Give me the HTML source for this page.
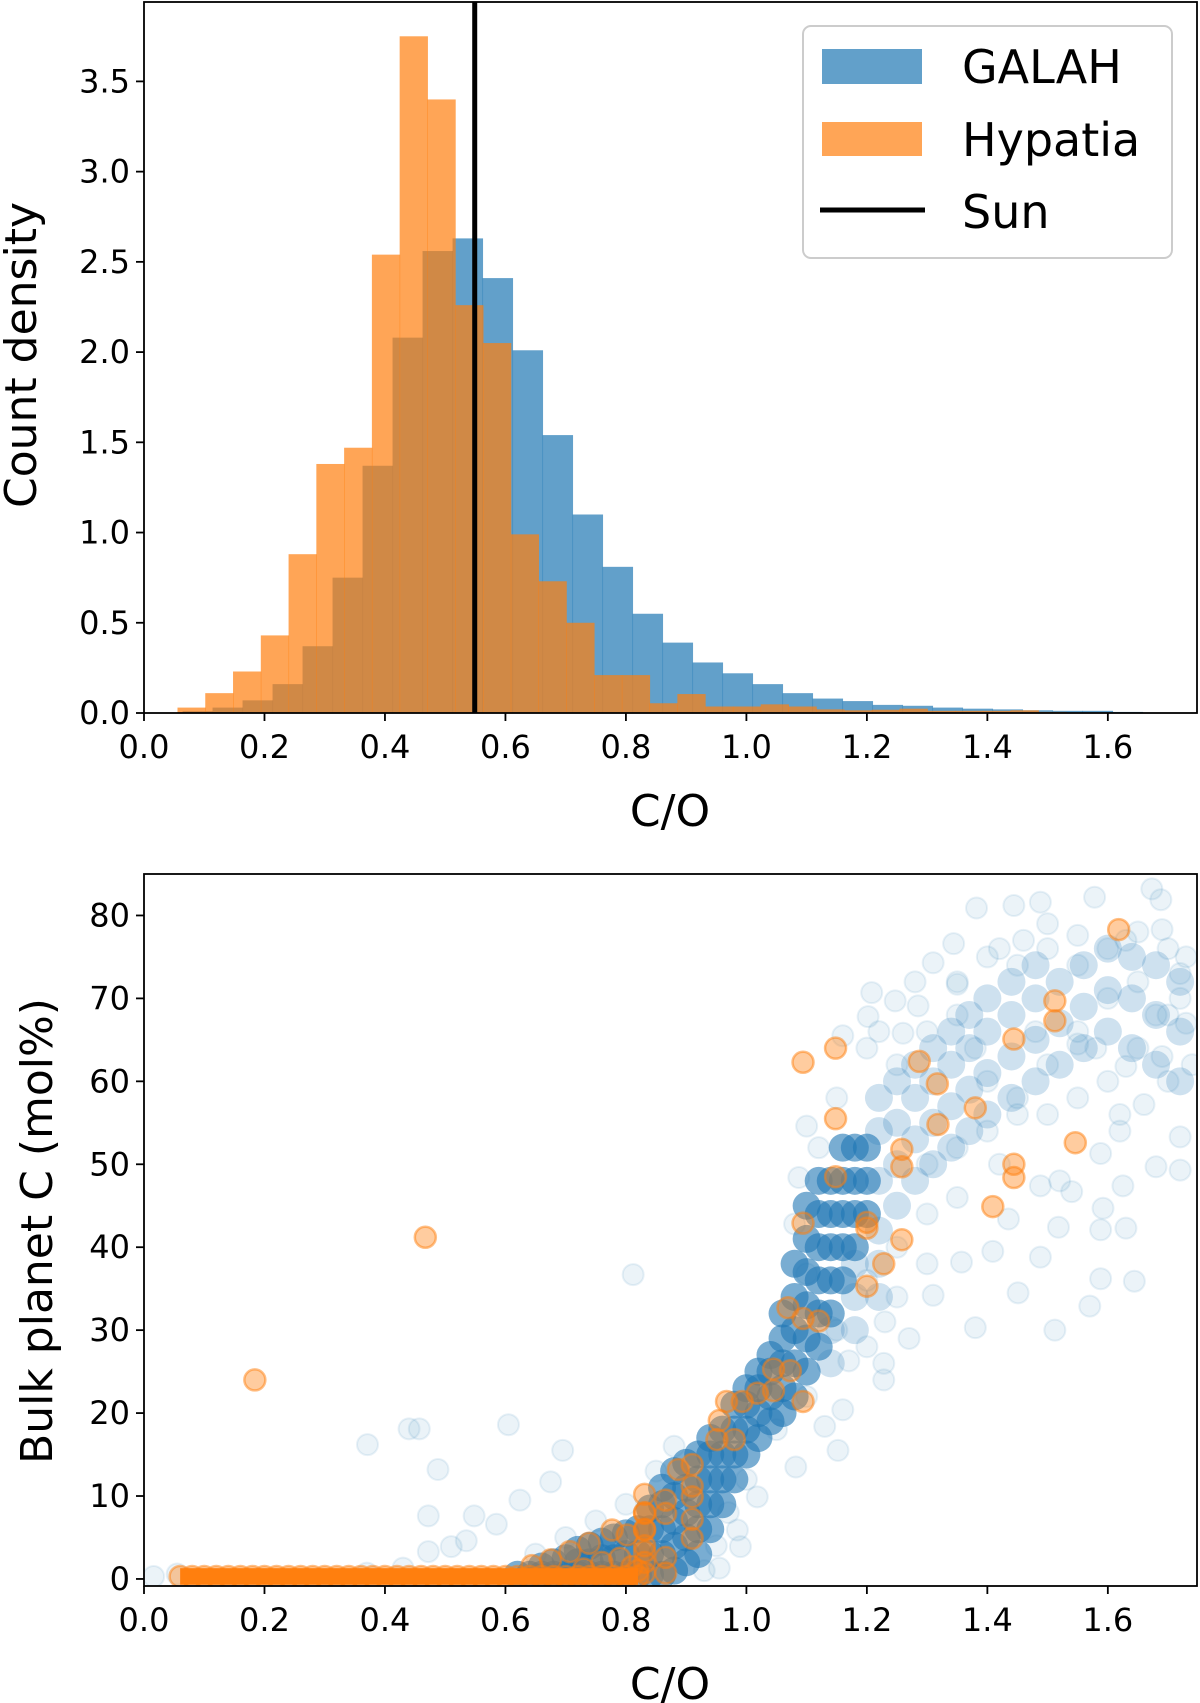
<!DOCTYPE html>
<html><head><meta charset="utf-8"><style>
html,body{margin:0;padding:0;background:#fff;}
svg{display:block;font-family:"DejaVu Sans","Liberation Sans",sans-serif;}
</style></head><body>
<svg id="fig" width="1200" height="1703" viewBox="0 0 1200 1703" xmlns="http://www.w3.org/2000/svg">
<defs>
<clipPath id="clipTop"><rect x="144" y="2" width="1053" height="711"/></clipPath>
<clipPath id="clipBot"><rect x="144" y="874" width="1053" height="712"/></clipPath>
</defs>
<g id="topPanel"></g>
<g id="botPanel"></g>
</svg>
<script>
// ---- Histogram data ----
const galahStart = 0.064;
const galahWidth = 0.0498;
const galahDensity = [0.01,0.03,0.07,0.16,0.37,0.75,1.37,2.08,2.56,2.63,2.41,2.01,1.54,1.10,0.81,0.55,0.39,0.28,0.22,0.16,0.11,0.08,0.066,0.045,0.04,0.03,0.024,0.02,0.015,0.012,0.012,0.006];
const hypStart = 0.0556;
const hypWidth = 0.0461;
const hypDensity = [0.03,0.11,0.23,0.43,0.88,1.38,1.47,2.54,3.75,3.40,2.26,2.05,0.99,0.73,0.50,0.21,0.21,0.054,0.105,0.036,0.036,0.048,0.036,0.02,0.015,0.018,0.024,0.012,0.012,0.012,0.015,0.006];
const sunCO = 0.549;
const xTicks = [0.0,0.2,0.4,0.6,0.8,1.0,1.2,1.4,1.6];
const yTicksTop = [0.0,0.5,1.0,1.5,2.0,2.5,3.0,3.5];
const yTicksBot = [0,10,20,30,40,50,60,70,80];

// ---- Scatter data ----
const galahX = [0.812,0.371,0.440,0.457,0.605,0.488,0.695,0.675,0.472,0.548,1.082,1.152,1.228,1.228,1.380,1.512,1.570,1.644,1.588,1.451,1.488,1.518,1.588,1.63,1.592,1.625,1.68,1.72,1.72,1.72,1.673,1.688,1.578,1.488,1.444,1.382,1.344,1.310,1.208,1.202,1.16,1.10,1.087,1.08,1.10,1.247,1.26,1.285,1.35,1.40,1.46,1.50,1.55,1.63,1.69,1.73,1.73,1.69,1.63,1.55,1.66,1.62,1.588,1.54,1.488,1.435,1.409,1.357,1.31,1.27,1.23,1.17,1.16,1.13,1.018,0.985,0.99,0.955,0.624,0.585,0.535,0.51,0.472,0.43,0.37,0.016,0.055,
1.25,1.3,1.35,1.4,1.45,1.5,1.55,1.6,1.65,1.7,1.3,1.35,1.4,1.45,1.5,1.55,1.6,1.65,1.7,1.74,1.3,1.35,1.25,1.2,1.25,1.3,1.15,1.2,1.1,1.05,1.0,0.97,0.95,0.93,0.7,0.65,0.75,0.8,0.85,0.88,1.45,1.5,1.55,1.6,1.65,1.7,1.35,1.42,1.28,1.2,1.15,1.12,1.22,1.38,1.48,1.58,1.68,1.72,1.62,1.52,1.42];
const galahY = [36.7,16.2,18.1,18.1,18.6,13.2,15.5,11.7,7.6,7.6,13.5,15.5,24,26,30.3,30,32.9,35.9,36.2,34.5,38.8,42.4,42.1,42.3,44.7,47.4,49.7,49.3,53.3,73,83.2,81.9,82.2,81.6,81.2,80.9,76.6,74.3,70.7,67.8,65.5,54.6,48.4,42.8,36.8,69.7,65.8,69.1,71.7,75.0,77,79,77.6,77,78.3,75,67,63,61.8,64.5,57.2,54,51.3,46.7,47.4,43.4,39.5,38.2,34.2,29,31,26.3,20.4,18.4,9.9,5.9,3.9,1.3,9.5,6.6,4.6,3.9,3.3,1.3,0.7,0.3,0.6,
62,66,68,60,58,62,66,70,72,68,50,52,54,56,56,58,60,64,60,62,44,46,40,36,34,38,30,28,22,18,12,8,4,1,5,3,7,9,13,16,74,76,74,76,78,76,72,76,72,64,58,52,66,64,66,64,68,70,56,48,50];
const bandX = [0.62,0.64,0.66,0.66,0.68,0.68,0.70,0.70,0.72,0.72,0.72,0.74,0.74,0.74,0.76,0.76,0.76,0.78,0.78,0.78,0.80,0.80,0.80,0.82,0.82,0.82,0.84,0.84,0.84,0.84,0.86,0.86,0.86,0.86,0.86,0.88,0.88,0.88,0.88,0.88,0.90,0.90,0.90,0.90,0.90,0.92,0.92,0.92,0.92,0.92,0.94,0.94,0.94,0.94,0.94,0.96,0.96,0.96,0.96,0.98,0.98,0.98,0.98,1.00,1.00,1.00,1.00,1.02,1.02,1.02,1.02,1.04,1.04,1.04,1.04,1.06,1.06,1.06,1.06,1.06,1.08,1.08,1.08,1.08,1.08,1.10,1.10,1.10,1.10,1.10,1.10,1.12,1.12,1.12,1.12,1.12,1.12,1.14,1.14,1.14,1.14,1.14,1.16,1.16,1.16,1.16,1.16,1.18,1.18,1.18,1.18,1.20,1.20,1.20];
const bandY = [0.5,0.5,0.5,1.5,0.5,2,0.5,2.5,0.5,2,3.5,0.5,2,4,0.5,2.5,4.5,0.5,2.5,5,0.5,3,5.5,0.5,3,6,0.5,3,6,8.5,0.5,3,6,9,11,1,4,7,10,13,2,5,8,11,14,3,6,9,12,15,6,9,12,15,17,9,12,15,18,12,15,18,21,15,18,21,23,17,20,23,25,19,22,25,27,20,23,26,29,32,22,26,30,34,38,25,29,33,37,41,45,28,32,36,40,44,48,32,36,40,44,48,36,40,44,48,52,40,44,48,52,44,48,52];
const cloudX = [1.22,1.22,1.22,1.22,1.25,1.25,1.25,1.25,1.28,1.28,1.28,1.28,1.31,1.31,1.31,1.31,1.34,1.34,1.34,1.34,1.37,1.37,1.37,1.37,1.40,1.40,1.40,1.40,1.44,1.44,1.44,1.44,1.48,1.48,1.48,1.48,1.52,1.52,1.52,1.56,1.56,1.56,1.60,1.60,1.60,1.64,1.64,1.64,1.68,1.68,1.68,1.72,1.72,1.72,1.14,1.14,1.18,1.18,1.18,1.22,1.22];
const cloudY = [42,48,54,58,45,50,55,60,48,53,58,62,50,55,60,64,52,57,62,66,54,59,64,68,56,61,66,70,58,63,68,72,60,65,70,74,62,67,72,64,69,74,66,71,76,64,70,75,62,68,74,60,66,72,26,30,30,34,38,34,38];
const hypX = [0.184,0.467,1.094,1.148,1.148,1.148,1.094,1.287,1.317,1.318,1.380,1.444,1.512,1.512,1.618,1.546,1.444,1.444,1.409,1.258,1.258,1.258,1.228,1.200,1.200,1.200,1.069,1.094,1.120,1.094,1.045,1.045,1.073,1.018,0.993,0.967,0.955,0.980,0.951,0.910,0.887,0.910,0.910,0.910,0.910,0.866,0.866,0.866,0.866,0.831,0.831,0.831,0.831,0.831,0.802,0.777,0.739,0.707,0.675,0.644,0.831,0.831,0.831,0.831,0.82,0.81,0.79,0.76,0.73,
0.06,0.08,0.10,0.12,0.14,0.16,0.18,0.20,0.22,0.24,0.26,0.28,0.30,0.32,0.34,0.36,0.38,0.40,0.42,0.44,0.46,0.48,0.50,0.52,0.54,0.56,0.58,0.60,0.62,0.64,0.66,0.68,0.70,0.72,0.74,0.76,0.78,0.80,0.82];
const hypY = [24.0,41.2,62.3,64.0,55.5,48.5,42.9,62.4,59.7,54.8,56.8,65.1,69.7,67.3,78.3,52.6,50,48.4,44.9,51.8,49.7,40.9,38.0,43.0,42.3,35.3,32.7,31.4,31.1,21.4,25.3,22.7,25.1,22.4,21.4,21.4,19.1,16.8,16.8,13.8,13.2,11.2,9.9,7.2,4.9,9.5,7.9,2.6,0.7,10.2,7.9,5.9,3.3,0.7,5.3,5.9,4.3,3.3,2.3,1.6,2,4,6,8,1,1.5,2.5,2,1.2,
0.3,0.3,0.3,0.3,0.3,0.3,0.3,0.3,0.3,0.3,0.3,0.3,0.3,0.3,0.3,0.3,0.3,0.3,0.3,0.3,0.3,0.3,0.3,0.3,0.3,0.3,0.3,0.3,0.3,0.3,0.3,0.3,0.3,0.3,0.3,0.3,0.3,0.3,0.3];

const NS = "http://www.w3.org/2000/svg";
function mk(tag, attrs, parent){const e=document.createElementNS(NS,tag);for(const k in attrs)e.setAttribute(k,attrs[k]);parent.appendChild(e);return e;}
const X0=144, X1=1197, XMAX=1.748;
function sx(v){return X0+v*(X1-X0)/XMAX;}
const T_Y0=713, T_YT=2, T_YMAX=3.94;
function tyScale(v){return T_Y0-v*(T_Y0-T_YT)/T_YMAX;}
const B_YB=1586, B_YT=874, B_MIN=-0.85, B_MAX=85.0;
function byScale(v){return B_YB-(v-B_MIN)*(B_YB-B_YT)/(B_MAX-B_MIN);}

const topG=document.getElementById('topPanel');
const botG=document.getElementById('botPanel');

// ---- histogram ----
const hg=mk('g',{'clip-path':'url(#clipTop)'},topG);


galahDensity.forEach((d,i)=>{
  const xa=sx(galahStart+i*galahWidth), xb=sx(galahStart+(i+1)*galahWidth);
  const r=mk('rect',{x:xa,y:tyScale(d),width:xb-xa+0.5,height:T_Y0-tyScale(d),fill:'#1f77b4','fill-opacity':0.7},hg);
  
  
});
hypDensity.forEach((d,i)=>{
  const xa=sx(hypStart+i*hypWidth), xb=sx(hypStart+(i+1)*hypWidth);
  const r=mk('rect',{x:xa,y:tyScale(d),width:xb-xa+0.5,height:T_Y0-tyScale(d),fill:'#ff7f0e','fill-opacity':0.7},hg);
  
  
});
const sun=mk('line',{x1:sx(sunCO),x2:sx(sunCO),y1:T_YT,y2:T_Y0,stroke:'#000','stroke-width':5},topG);



function axes(parent, yb, yt, yticks, yscale, fmt, nameP){
  const f=mk('rect',{x:X0,y:yt,width:X1-X0,height:yb-yt,fill:'none',stroke:'#000','stroke-width':1.8},parent);
  
  
  xTicks.forEach(t=>{
    const x=sx(t);
    mk('line',{x1:x,x2:x,y1:yb,y2:yb+8,stroke:'#000','stroke-width':1.8},parent);
    const tx=mk('text',{x:x,y:yb+45,'font-size':32,'text-anchor':'middle',fill:'#000'},parent);
    tx.textContent=t.toFixed(1);
    
    
  });
  yticks.forEach(t=>{
    const y=yscale(t);
    mk('line',{x1:X0-8,x2:X0,y1:y,y2:y,stroke:'#000','stroke-width':1.8},parent);
    const tx=mk('text',{x:X0-14,y:y+11,'font-size':32,'text-anchor':'end',fill:'#000'},parent);
    tx.textContent=fmt(t);
    
    
  });
}
axes(topG,T_Y0,T_YT,yTicksTop,tyScale,t=>t.toFixed(1),'histogram');

// ---- scatter ----
const sg=mk('g',{'clip-path':'url(#clipBot)'},botG);


galahX.forEach((x,i)=>{
  const c=mk('circle',{cx:sx(x),cy:byScale(galahY[i]),r:10.5,fill:'#1f77b4','fill-opacity':0.09,stroke:'#1f77b4','stroke-opacity':0.1,'stroke-width':2},sg);
  
  
});
cloudX.forEach((x,i)=>{
  const c=mk('circle',{cx:sx(x),cy:byScale(cloudY[i]),r:14,fill:'#1f77b4','fill-opacity':0.22},sg);
  
  
});
bandX.forEach((x,i)=>{
  const c=mk('circle',{cx:sx(x),cy:byScale(bandY[i]),r:14,fill:'#1f77b4','fill-opacity':0.6},sg);
  
  
});
hypX.forEach((x,i)=>{
  const c=mk('circle',{cx:sx(x),cy:byScale(hypY[i]),r:10.5,fill:'#ff7f0e','fill-opacity':0.4,stroke:'#ff7f0e','stroke-opacity':0.5,'stroke-width':2.5},sg);
  
  
});
const band=mk('rect',{x:sx(0.06),y:byScale(1.3),width:sx(0.82)-sx(0.06),height:byScale(-0.7)-byScale(1.3),fill:'#ff7f0e'},sg);


axes(botG,B_YB,B_YT,yTicksBot,byScale,t=>String(t),'scatter');

// ---- labels ----
function label(parent,txt,x,y,size,rot,name){
  const t=mk('text',{x:x,y:y,'font-size':size,'text-anchor':'middle',fill:'#000'},parent);
  if(rot) t.setAttribute('transform','rotate(-90 '+x+' '+y+')');
  t.textContent=txt;
  
  
}
label(topG,'C/O',670,826,44,false,'x-axis-title');
label(topG,'Count density',36,355,44,true,'y-axis-title');
label(botG,'C/O',670,1699,44,false,'x-axis-title');
label(botG,'Bulk planet C (mol%)',52,1231,44,true,'y-axis-title');

// ---- legend ----
const lg=mk('g',{},topG);


mk('rect',{x:803,y:26,width:369,height:232,rx:8,fill:'#fff','fill-opacity':0.8,stroke:'#ccc','stroke-width':2},lg);
const p1=mk('rect',{x:822,y:49,width:100,height:35,fill:'#1f77b4','fill-opacity':0.7},lg);


const p2=mk('rect',{x:822,y:122,width:100,height:34,fill:'#ff7f0e','fill-opacity':0.7},lg);


const p3=mk('line',{x1:820,x2:925,y1:210,y2:210,stroke:'#000','stroke-width':5},lg);


[['GALAH',83],['Hypatia',156],['Sun',228]].forEach(([s,y])=>{
  const t=mk('text',{x:962,y:y,'font-size':46,fill:'#000'},lg);
  t.textContent=s;
  
  
});
</script>
</body></html>
